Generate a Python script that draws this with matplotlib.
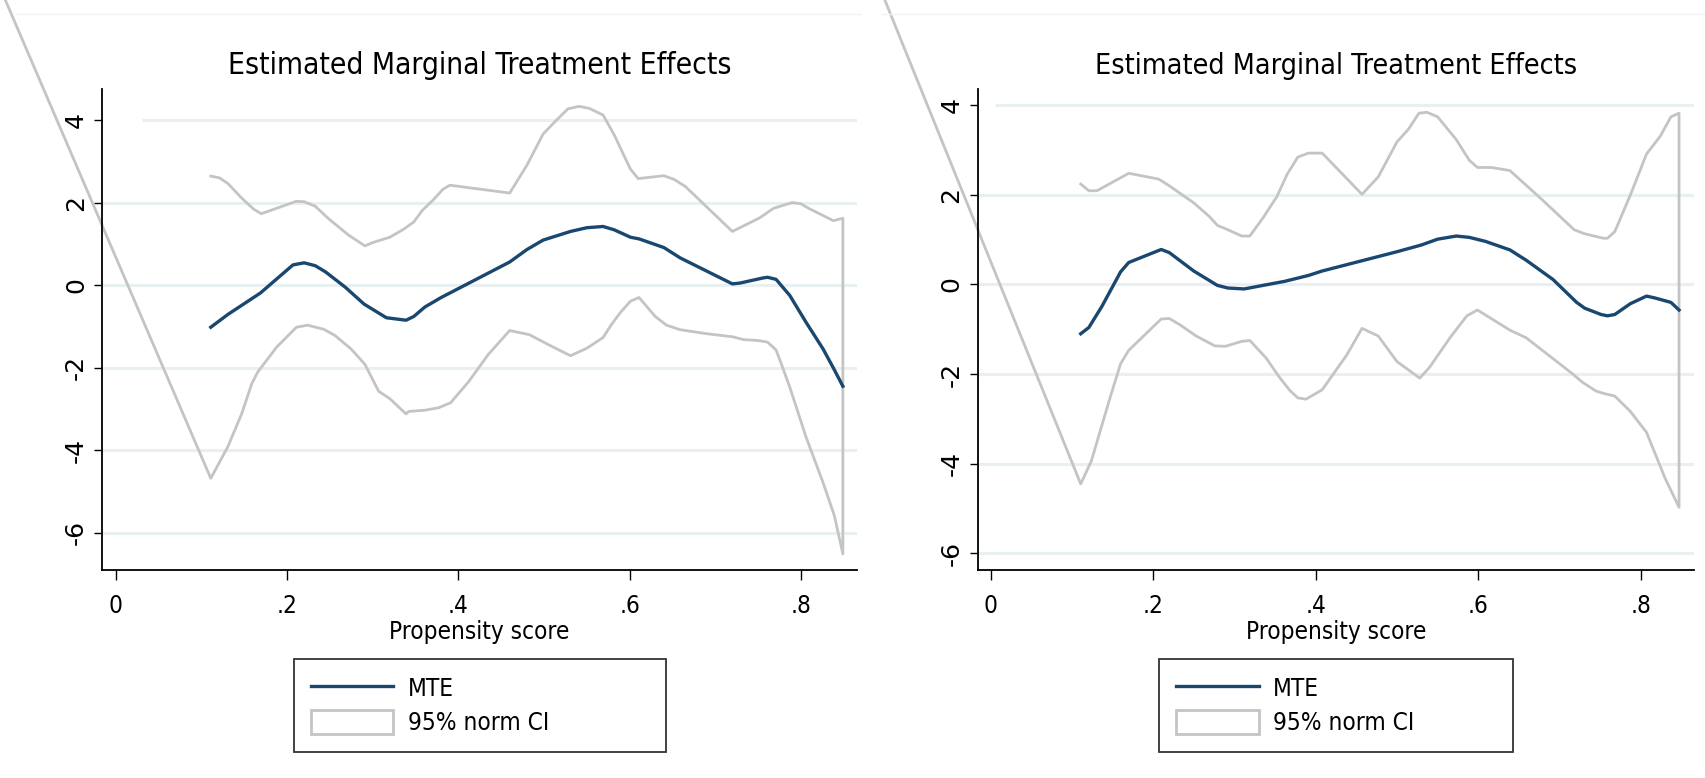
import matplotlib
matplotlib.use("Agg")
import matplotlib.pyplot as plt
from matplotlib.lines import Line2D
from matplotlib.patches import Rectangle

# ---- left panel data ----
l_mte_x = [0.111, 0.131, 0.169, 0.207, 0.22, 0.233, 0.245, 0.268, 0.29, 0.316, 0.339, 0.348,
           0.361, 0.38, 0.46, 0.48, 0.499, 0.531, 0.55, 0.569, 0.582, 0.601, 0.611, 0.64, 0.659,
           0.72, 0.729, 0.755, 0.761, 0.771, 0.787, 0.806, 0.826, 0.838, 0.849]
l_mte_y = [-1.02, -0.71, -0.19, 0.49, 0.54, 0.47, 0.32, -0.05, -0.46, -0.79, -0.85, -0.76,
           -0.53, -0.30, 0.56, 0.86, 1.09, 1.30, 1.39, 1.42, 1.34, 1.16, 1.12, 0.91, 0.66,
           0.03, 0.05, 0.17, 0.19, 0.14, -0.25, -0.90, -1.55, -2.01, -2.45]

l_hi_x = [0.111, 0.121, 0.131, 0.147, 0.161, 0.17, 0.211, 0.22, 0.233, 0.249, 0.272, 0.291,
          0.3, 0.32, 0.336, 0.348, 0.358, 0.371, 0.382, 0.39, 0.46, 0.48, 0.499, 0.512, 0.528,
          0.541, 0.553, 0.569, 0.582, 0.592, 0.601, 0.61, 0.64, 0.652, 0.665, 0.72, 0.752,
          0.768, 0.79, 0.80, 0.809, 0.838, 0.849]
l_hi_y = [2.64, 2.60, 2.46, 2.11, 1.84, 1.73, 2.03, 2.02, 1.91, 1.60, 1.21, 0.95,
          1.03, 1.16, 1.35, 1.53, 1.81, 2.07, 2.32, 2.42, 2.23, 2.90, 3.66, 3.94, 4.27,
          4.33, 4.28, 4.12, 3.64, 3.20, 2.81, 2.58, 2.65, 2.56, 2.39, 1.30, 1.63,
          1.86, 2.00, 1.97, 1.86, 1.56, 1.62]

l_lo_x = [0.111, 0.131, 0.147, 0.159, 0.166, 0.188, 0.211, 0.224, 0.243, 0.256, 0.275, 0.291,
          0.307, 0.32, 0.339, 0.342, 0.361, 0.377, 0.391, 0.412, 0.435, 0.46, 0.483, 0.505,
          0.531, 0.55, 0.569, 0.579, 0.589, 0.601, 0.611, 0.63, 0.643, 0.659, 0.691, 0.72,
          0.733, 0.749, 0.761, 0.771, 0.777, 0.787, 0.806, 0.826, 0.839, 0.849]
l_lo_y = [-4.68, -3.91, -3.12, -2.38, -2.10, -1.50, -1.02, -0.97, -1.07, -1.22, -1.55, -1.92,
          -2.57, -2.75, -3.12, -3.06, -3.03, -2.97, -2.85, -2.34, -1.68, -1.10, -1.20, -1.44,
          -1.71, -1.53, -1.27, -0.95, -0.67, -0.39, -0.30, -0.76, -0.97, -1.08, -1.18, -1.25,
          -1.32, -1.34, -1.38, -1.57, -1.90, -2.47, -3.68, -4.79, -5.58, -6.51]
l_close = (-0.30, 15.17)   # where the outline wanders off to

# ---- right panel data ----
r_mte_x = [0.111, 0.121, 0.137, 0.16, 0.17, 0.21, 0.22, 0.25, 0.279, 0.292, 0.312, 0.362,
           0.391, 0.408, 0.5, 0.53, 0.55, 0.573, 0.589, 0.609, 0.639, 0.659, 0.692, 0.721,
           0.731, 0.751, 0.759, 0.768, 0.787, 0.807, 0.817, 0.837, 0.847]
r_mte_y = [-1.10, -0.96, -0.49, 0.28, 0.49, 0.78, 0.71, 0.30, -0.02, -0.08, -0.10, 0.07,
           0.20, 0.30, 0.73, 0.88, 1.01, 1.08, 1.05, 0.96, 0.77, 0.54, 0.11, -0.40,
           -0.53, -0.67, -0.70, -0.67, -0.43, -0.26, -0.30, -0.40, -0.57]

r_hi_x = [0.111, 0.121, 0.131, 0.17, 0.207, 0.22, 0.25, 0.269, 0.279, 0.292, 0.309, 0.319,
          0.335, 0.352, 0.365, 0.378, 0.391, 0.408, 0.457, 0.477, 0.5, 0.514, 0.527, 0.537,
          0.55, 0.573, 0.589, 0.599, 0.616, 0.639, 0.678, 0.718, 0.731, 0.754, 0.759, 0.768,
          0.787, 0.807, 0.824, 0.837, 0.847]
r_hi_y = [2.24, 2.09, 2.09, 2.48, 2.35, 2.20, 1.82, 1.52, 1.32, 1.22, 1.08, 1.08,
          1.48, 1.95, 2.46, 2.84, 2.93, 2.93, 2.01, 2.40, 3.18, 3.46, 3.82, 3.84,
          3.74, 3.23, 2.77, 2.61, 2.61, 2.54, 1.90, 1.22, 1.13, 1.03, 1.03, 1.18,
          1.99, 2.91, 3.31, 3.74, 3.82]

r_lo_x = [0.111, 0.124, 0.147, 0.16, 0.17, 0.21, 0.22, 0.233, 0.253, 0.276, 0.289, 0.309,
          0.319, 0.339, 0.355, 0.368, 0.378, 0.388, 0.408, 0.438, 0.457, 0.477, 0.5, 0.528,
          0.54, 0.566, 0.586, 0.599, 0.639, 0.659, 0.715, 0.728, 0.745, 0.754, 0.768, 0.787,
          0.807, 0.83, 0.847]
r_lo_y = [-4.45, -3.94, -2.53, -1.77, -1.47, -0.77, -0.76, -0.90, -1.15, -1.37, -1.38, -1.27,
          -1.25, -1.64, -2.06, -2.36, -2.53, -2.56, -2.35, -1.58, -0.98, -1.15, -1.72, -2.09,
          -1.85, -1.17, -0.70, -0.57, -1.02, -1.19, -1.98, -2.18, -2.38, -2.43, -2.49, -2.83,
          -3.30, -4.33, -4.97]
r_close = (-0.30, 13.96)

yticks = [-6, -4, -2, 0, 2, 4]
xticks = [0, 0.2, 0.4, 0.6, 0.8]
xticklabels = ["0", ".2", ".4", ".6", ".8"]

navy = "#1a476f"
ci_grey = "#c4c4c4"
grid_col = "#e9f0f2"
cond = dict(family="DejaVu Sans", fontstretch="condensed")

fig = plt.figure(figsize=(17.05, 7.78), dpi=100)

# faint outer frame lines at the very top
fig.add_artist(Line2D([16 / 1705, 860 / 1705], [1 - 14 / 778] * 2, color="#f0f3f5", lw=1))
fig.add_artist(Line2D([882 / 1705, 1.0], [1 - 14 / 778] * 2, color="#f0f3f5", lw=1))


def panel(rect, xlim, ylim, mte_x, mte_y, hi_x, hi_y, lo_x, lo_y, close, grid4_start,
          title_size, legend_box):
    ax = fig.add_axes(rect)
    ax.set_xlim(*xlim)
    ax.set_ylim(*ylim)

    for yv in yticks:
        start = grid4_start if yv == 4 else xlim[0]
        ax.hlines(yv, start, xlim[1], color=grid_col, lw=2.2, zorder=0)

    # CI drawn as one outline: upper band, down the right edge, back along lower band
    ci_x = list(hi_x) + list(reversed(lo_x)) + [close[0]]
    ci_y = list(hi_y) + list(reversed(lo_y)) + [close[1]]
    ax.plot(ci_x, ci_y, color=ci_grey, lw=2.0, clip_on=False, zorder=2)
    ax.plot(mte_x, mte_y, color=navy, lw=2.4, zorder=3)

    for s in ["top", "right"]:
        ax.spines[s].set_visible(False)
    for s in ["left", "bottom"]:
        ax.spines[s].set_linewidth(1.3)
        ax.spines[s].set_color("black")

    ax.set_xticks(xticks)
    ax.set_xticklabels(xticklabels, fontsize=17.5, **cond)
    ax.set_yticks(yticks)
    ax.set_yticklabels([str(v) for v in yticks], fontsize=18, family="DejaVu Sans",
                       rotation=90, va="center")
    ax.tick_params(axis="x", length=7, width=1, pad=10)
    ax.tick_params(axis="y", length=6, width=1, pad=4)

    ax.set_title("Estimated Marginal Treatment Effects", fontsize=title_size, pad=11, **cond)
    ax.set_xlabel("Propensity score", fontsize=17.5, labelpad=2, **cond)

    handles = [Line2D([], [], color=navy, lw=2.4),
               Rectangle((0, 0), 1, 1, facecolor="white", edgecolor=ci_grey, lw=2.0)]
    leg = fig.legend(handles, ["MTE", "95% norm CI"], loc="upper left",
                     bbox_to_anchor=legend_box, mode="expand", ncol=1,
                     prop={"family": "DejaVu Sans", "stretch": "condensed", "size": 17.5},
                     frameon=True, fancybox=False,
                     edgecolor="black", handlelength=3.4, handleheight=1.15,
                     handletextpad=0.6, labelspacing=0.35, borderpad=0.7,
                     borderaxespad=0)
    leg.get_frame().set_linewidth(1.3)
    return ax


panel([102 / 1705, 1 - 570 / 778, 755 / 1705, 481 / 778], (-0.016, 0.8655), (-6.9, 4.75),
      l_mte_x, l_mte_y, l_hi_x, l_hi_y, l_lo_x, l_lo_y, l_close, 0.031, 21.5,
      (293.5 / 1705, 1 - 747 / 778, 372 / 1705, 88 / 778))
panel([977.5 / 1705, 1 - 570 / 778, 716.5 / 1705, 481 / 778], (-0.016, 0.8654), (-6.37, 4.36),
      r_mte_x, r_mte_y, r_hi_x, r_hi_y, r_lo_x, r_lo_y, r_close, 0.006, 20.5,
      (1159 / 1705, 1 - 747 / 778, 353.5 / 1705, 88 / 778))

fig.savefig("out.png", dpi=100)
